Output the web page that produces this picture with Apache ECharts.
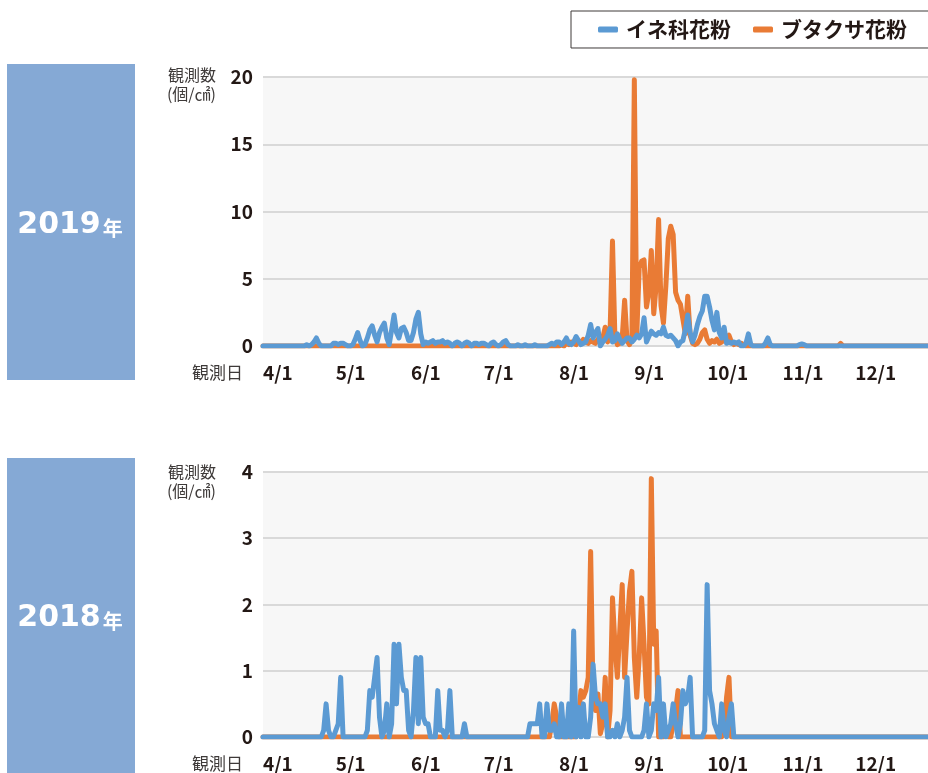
<!DOCTYPE html>
<html>
<head>
<meta charset="utf-8">
<script src="https://cdn.jsdelivr.net/npm/echarts@6/dist/echarts.min.js"></script>
<style>
  html, body { margin: 0; padding: 0; background: #fff; }
  #chart { width: 928px; height: 773px; }
</style>
</head>
<body>
<div id="chart"></div>
<script>
// observation period: 4/1 - 12/31, one value per day
const monthNums = [4, 5, 6, 7, 8, 9, 10, 11, 12];
const monthDays = [30, 31, 30, 31, 31, 30, 31, 30, 31];
const days = [];
monthNums.forEach((m, i) => {
    for (let d = 1; d <= monthDays[i]; d++) days.push(m + "/" + d);
});

// 2019 イネ科花粉 (個/㎠)
const ine2019 = [].concat(
    [0,0,0,0,0,0,0,0,0,0, 0,0,0,0,0,0,0,0,0.1,0, 0.1,0.3,0.6,0.2,0,0,0,0,0,0.2],
    [0.2,0.1,0.2,0.2,0.1,0,0,0.1,0.5,1.0, 0.4,0,0.1,0.6,1.2,1.5,0.8,0.3,1.0,1.4, 1.7,0.6,0.1,1.2,2.3,1.0,0.6,1.3,1.4,1.0, 0.4],
    [0.4,1.0,2.0,2.5,0.9,0.1,0.3,0.2,0.3,0.4, 0.2,0.3,0.3,0.4,0.2,0.3,0.2,0,0.2,0.3, 0.2,0,0.2,0.3,0.2,0,0.2,0.2,0.1,0.2],
    [0.2,0.1,0,0.2,0.3,0.1,0,0.1,0.3,0.4, 0.1,0,0,0,0.1,0,0,0.1,0,0, 0,0.1,0,0,0,0,0,0.1,0.2,0.1, 0.3],
    [0.3,0.1,0.3,0.6,0.2,0.1,0.3,0.7,0.4,0.1, 0.2,0.3,0.8,1.6,0.6,1.0,1.3,0,0.3,0.5, 0.8,1.3,0.3,0.4,0.9,0.5,0.2,0.4,0.6,0.6, 0.3],
    [0.5,0.8,0.6,0.9,2.1,0.3,0.7,1.1,0.9,0.8, 1.0,0.9,1.4,0.8,0.7,0.8,0.6,0.4,0,0.3, 0.4,1.2,2.3,1.0,0.3,0.8,1.6,2.2,2.6,3.7],
    [3.7,2.9,1.9,1.2,2.5,1.0,0.6,1.4,0.2,0.3, 0.2,0.3,0.2,0.3,0,0,0.2,0.9,0.1,0, 0,0,0,0,0.2,0.6,0.1,0,0,0, 0],
    [0,0,0,0,0,0,0,0.1,0.15,0.1, 0,0,0,0,0,0,0,0,0,0, 0,0,0,0,0,0,0,0,0,0],
    [0,0,0,0,0,0,0,0,0,0, 0,0,0,0,0,0,0,0,0,0, 0,0,0,0,0,0,0,0,0,0, 0]
);

// 2019 ブタクサ花粉 (個/㎠)
const buta2019 = [].concat(
    [0,0,0,0,0,0,0,0,0,0, 0,0,0,0,0,0,0,0,0,0, 0,0,0,0,0,0,0,0,0,0],
    [0,0,0,0,0,0,0,0,0,0, 0,0,0,0,0,0,0,0,0,0, 0,0,0,0,0,0,0,0,0,0, 0],
    [0,0,0,0,0,0,0,0,0,0, 0,0,0,0,0,0,0,0,0,0, 0,0,0,0,0,0,0,0,0,0],
    [0,0,0,0,0,0,0,0,0,0, 0,0,0,0,0,0,0,0,0,0, 0,0,0,0,0,0,0,0,0,0, 0],
    [0,0.1,0,0.2,0.1,0.3,0.2,0.1,0.4,0.2, 0.5,0.3,0.2,0.4,0.3,0.2,0.5,0.3,0.6,1.4, 0.3,1.0,7.8,0.6,0.1,0.2,0.6,3.4,0.4,0.1, 0.5],
    [19.8,0.8,5.8,6.3,6.4,2.9,4.0,7.1,2.4,4.5, 9.4,3.0,1.7,4.5,8.0,8.9,8.3,4.0,3.4,3.1, 2.0,0.9,3.7,0.8,0.2,0.1,0.2,0.5,1.0,1.2],
    [0.5,0.2,0.4,0.3,0.5,0.2,0.3,0.5,0.6,0.8, 0.3,0.1,0.2,0.1,0.2,0.1,0,0,0,0, 0,0,0,0,0,0,0,0,0,0, 0],
    [0,0,0,0,0,0,0,0,0,0, 0,0,0,0,0,0,0,0,0,0, 0,0,0,0,0.2,0,0,0,0,0],
    [0,0,0,0,0,0,0,0,0,0, 0,0,0,0,0,0,0,0,0,0, 0,0,0,0,0,0,0,0,0,0, 0]
);

// 2018 イネ科花粉 (個/㎠)
const ine2018 = [].concat(
    [0,0,0,0,0,0,0,0,0,0, 0,0,0,0,0,0,0,0,0,0, 0,0,0,0,0,0.1,0.5,0.1,0,0],
    [0.1,0.2,0.9,0,0,0,0,0,0,0, 0,0,0,0.1,0.7,0.6,0.9,1.2,0.3,0, 0.1,0.5,0,0.2,1.4,0.5,1.4,0.9,0.7,0.7, 0.1],
    [0,0.4,1.2,0.2,1.2,0.3,0.2,0.2,0,0, 0,0.7,0.1,0.1,0,0.1,0.7,0,0,0, 0,0,0.2,0,0,0,0,0,0,0],
    [0,0,0,0,0,0,0,0,0,0, 0,0,0,0,0,0,0,0,0,0.2, 0.2,0.2,0.2,0.5,0,0,0.5,0.1,0.1,0.2, 0],
    [0,0.5,0,0,0.5,0,1.6,0,0.45,0, 0.5,0,0,0.3,1.1,0.6,0.5,0.5,0.3,0.5, 0,0,0.1,0,0.2,0,0.1,0.3,0.9,0.1, 0],
    [0,0,0,0,0.1,0.5,0,0.1,0.5,0.4, 0.9,0,0.5,0,0.1,0.2,0.5,0.2,0,0.2, 0.7,0.5,0.6,0.9,0,0,0,0,0,0.1],
    [2.3,0.7,0.5,0.2,0.1,0,0.5,0.1,0,0.3, 0.5,0,0,0,0,0,0,0,0,0, 0,0,0,0,0,0,0,0,0,0, 0],
    [0,0,0,0,0,0,0,0,0,0, 0,0,0,0,0,0,0,0,0,0, 0,0,0,0,0,0,0,0,0,0],
    [0,0,0,0,0,0,0,0,0,0, 0,0,0,0,0,0,0,0,0,0, 0,0,0,0,0,0,0,0,0,0, 0]
);

// 2018 ブタクサ花粉 (個/㎠)
const buta2018 = [].concat(
    [0,0,0,0,0,0,0,0,0,0, 0,0,0,0,0,0,0,0,0,0, 0,0,0,0,0,0,0,0,0,0],
    [0,0,0,0,0,0,0,0,0,0, 0,0,0,0,0,0,0,0,0,0, 0,0,0,0,0,0,0,0,0,0, 0],
    [0,0,0,0,0,0,0,0,0,0, 0,0,0,0,0,0,0,0,0,0, 0,0,0,0,0,0,0,0,0,0],
    [0,0,0,0,0,0,0,0,0,0, 0,0,0,0,0,0,0,0,0,0, 0,0,0,0,0,0,0,0,0.2,0.5, 0.3],
    [0,0,0,0,0,0,0,0,0.3,0.7, 0.6,0.7,0.9,2.8,0.6,0.4,0.65,0.05,0.2,0.9, 0,0.4,2.1,1.4,0.9,1.6,2.3,0.9,1.6,2.2, 2.5],
    [1.2,0.6,1.2,2.1,1.4,0.6,0.5,3.9,1.4,1.6, 0,0,0,0.1,0,0,0.2,0.4,0.7,0, 0,0,0,0,0,0,0,0,0,0],
    [0,0,0,0,0,0,0,0.1,0.6,0.9, 0,0,0,0,0,0,0,0,0,0, 0,0,0,0,0,0,0,0,0,0, 0],
    [0,0,0,0,0,0,0,0,0,0, 0,0,0,0,0,0,0,0,0,0, 0,0,0,0,0,0,0,0,0,0],
    [0,0,0,0,0,0,0,0,0,0, 0,0,0,0,0,0,0,0,0,0, 0,0,0,0,0,0,0,0,0,0, 0]
);

const yMax2019 = 20, yStep2019 = 5;
const yMax2018 = 4, yStep2018 = 1;

const FONT = "'Noto Sans CJK JP', sans-serif";
const BLUE = "#5b9ad3";
const ORANGE = "#e97b35";
const INK = "#231815";

const chart = echarts.init(document.getElementById("chart"), null, { renderer: "canvas" });

function xAxisFor(gridIndex) {
    return {
        type: "category",
        gridIndex: gridIndex,
        data: days,
        boundaryGap: false,
        axisLine: { show: false },
        axisTick: { show: false },
        axisLabel: {
            interval: (i, v) => v.endsWith("/1"),
            align: "left",
            margin: 17,
            fontSize: 19,
            fontWeight: "bold",
            color: INK,
            fontFamily: FONT
        }
    };
}

function yAxisFor(gridIndex, max, step) {
    return {
        type: "value",
        gridIndex: gridIndex,
        min: 0,
        max: max,
        interval: step,
        axisLine: { show: false },
        axisTick: { show: false },
        axisLabel: { margin: 10, fontSize: 19, fontWeight: "bold", color: INK, fontFamily: FONT },
        splitLine: { lineStyle: { color: "#d9d9d9", width: 2 } }
    };
}

function lineSeries(name, data, color, idx) {
    return {
        name: name,
        type: "line",
        xAxisIndex: idx,
        yAxisIndex: idx,
        data: data,
        symbol: "none",
        showSymbol: false,
        itemStyle: { color: color },
        lineStyle: { color: color, width: 5, cap: "round", join: "round" },
        animation: false
    };
}

function titleTexts(top, axisY) {
    const s = { fill: "#3e3a39", fontSize: 16, fontFamily: FONT, align: "right", verticalAlign: "middle" };
    return [
        { type: "text", x: 216, y: top, style: Object.assign({ text: "観測数" }, s) },
        { type: "text", x: 216, y: top + 19, style: Object.assign({ text: "(個/㎠)" }, s) },
        { type: "text", x: 243, y: axisY + 27, style: Object.assign({}, s, { text: "観測日", fontSize: 17 }) }
    ];
}

function yearBox(top, height, year) {
    return [
        { type: "rect", shape: { x: 7, y: top, width: 128, height: height }, style: { fill: "#85a9d5" } },
        {
            type: "text", x: 70, y: top + height / 2 + 3,
            style: {
                text: "{n|" + year + "}{u|年}",
                align: "center", verticalAlign: "middle",
                rich: {
                    n: { fill: "#fff", fontSize: 30, fontWeight: "bold", fontFamily: "'DejaVu Sans', sans-serif" },
                    u: { fill: "#fff", fontSize: 20, fontWeight: "bold", fontFamily: FONT, padding: [6, 0, 0, 2] }
                }
            }
        }
    ];
}

chart.setOption({
    backgroundColor: "#fff",
    animation: false,
    legend: {
        data: ["イネ科花粉", "ブタクサ花粉"],
        orient: "horizontal",
        left: 571,
        top: 11,
        width: 400,
        padding: [8, 26, 8, 27],
        borderColor: "#3e3a39",
        borderWidth: 1,
        icon: "roundRect",
        itemWidth: 20,
        itemHeight: 6,
        itemGap: 22,
        selectedMode: false,
        textStyle: { fontSize: 21, fontWeight: "bold", color: INK, fontFamily: FONT, padding: [0, 0, 0, 3] }
    },
    grid: [
        { left: 263, top: 77, width: 669, height: 269, show: true, backgroundColor: "#f7f7f7", borderWidth: 0 },
        { left: 263, top: 472, width: 669, height: 265, show: true, backgroundColor: "#f7f7f7", borderWidth: 0 }
    ],
    xAxis: [xAxisFor(0), xAxisFor(1)],
    yAxis: [yAxisFor(0, yMax2019, yStep2019), yAxisFor(1, yMax2018, yStep2018)],
    series: [
        lineSeries("ブタクサ花粉", buta2019, ORANGE, 0),
        lineSeries("イネ科花粉", ine2019, BLUE, 0),
        lineSeries("ブタクサ花粉", buta2018, ORANGE, 1),
        lineSeries("イネ科花粉", ine2018, BLUE, 1)
    ],
    graphic: [].concat(
        yearBox(64, 316, "2019"),
        yearBox(458, 315, "2018"),
        titleTexts(75, 346),
        titleTexts(472, 737)
    )
});
</script>
</body>
</html>
